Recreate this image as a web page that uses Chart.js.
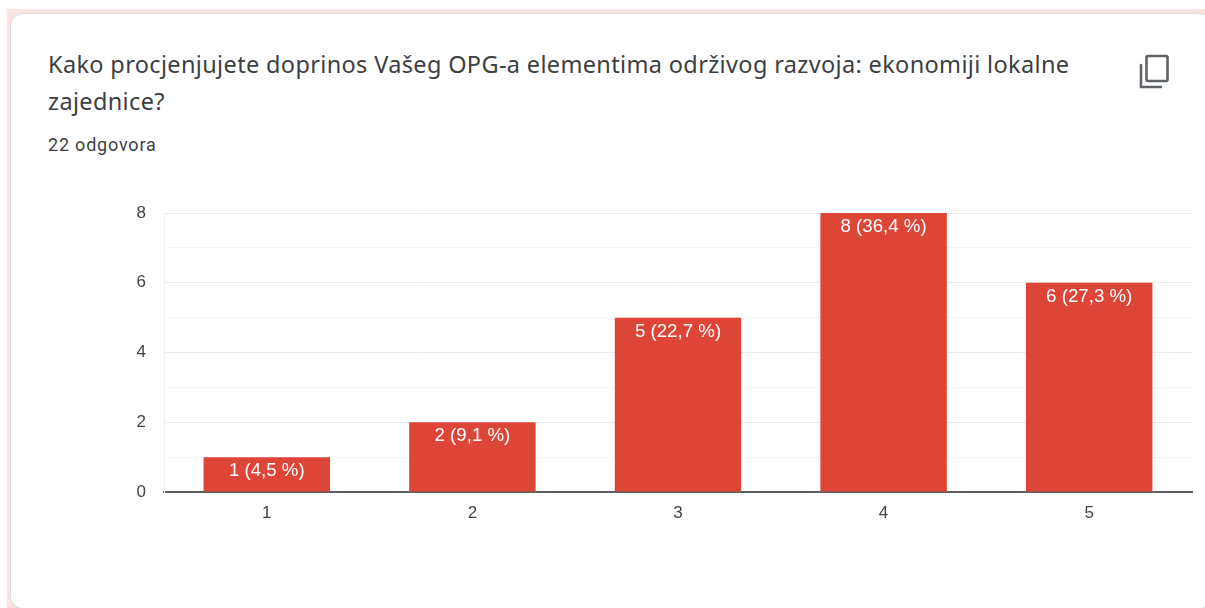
<!DOCTYPE html>
<html>
<head>
<meta charset="utf-8">
<style>
html, body { margin: 0; padding: 0; background: #fff; overflow: hidden; }
#page { position: relative; width: 1205px; height: 608px; overflow: hidden; background: #fff; }
#pink { position: absolute; left: 7px; top: 9px; width: 1198px; height: 599px; background: #fbe3e0; }
#card { position: absolute; left: 11px; top: 14px; width: 1200px; height: 594px; background: #fff; border-radius: 12px; box-shadow: 0 0 0 1px #dadce0; }
#title { position: absolute; left: 48px; top: 46px; white-space: nowrap; font: 23.5px/37px "Noto Sans", sans-serif; letter-spacing: 0.35px; color: #3c4043; }
#count { position: absolute; left: 48px; top: 135px; font: 18px/20px Roboto, sans-serif; color: #3c4043; letter-spacing: 0.8px; }
#copy { position: absolute; left: 1137px; top: 53px; }
canvas { position: absolute; left: 0; top: 0; }
</style>
</head>
<body>
<div id="page">
  <div id="pink"></div>
  <div id="card"></div>
  <div id="title">Kako procjenjujete doprinos Vašeg OPG-a elementima održivog razvoja: ekonomiji lokalne<br>zajednice?</div>
  <div id="count">22 odgovora</div>
  <svg id="copy" width="36" height="38" viewBox="0 0 36 38">
    <path d="M4 12 V34 H24" fill="none" stroke="#5f6368" stroke-width="2.6" stroke-linecap="round"/>
    <rect x="9.5" y="3" width="21" height="25" rx="1.5" fill="none" stroke="#5f6368" stroke-width="2.6"/>
  </svg>
  <div style="position:absolute;left:0;top:0;width:1205px;height:608px"><canvas id="BarChart"></canvas></div>
</div>
<script src="https://cdn.jsdelivr.net/npm/chart.js@4/dist/chart.umd.min.js"></script>
<script>
var categories = ['1', '2', '3', '4', '5'];
var answers = [1, 2, 5, 8, 6];
var barLabels = ['1 (4,5 %)', '2 (9,1 %)', '5 (22,7 %)', '8 (36,4 %)', '6 (27,3 %)'];

var barLabelPlugin = {
    id: 'barLabels',
    afterDatasetsDraw: function (chart) {
        var c = chart.ctx;
        c.save();
        c.font = '18.7px "Liberation Sans", Arial, sans-serif';
        c.fillStyle = '#ffffff';
        c.textAlign = 'center';
        c.textBaseline = 'middle';
        chart.getDatasetMeta(0).data.forEach(function (bar, i) {
            c.fillText(barLabels[i], bar.x, bar.y + 14);
        });
        c.restore();
    }
};

var ctx = document.getElementById('BarChart').getContext('2d');
var myChart = new Chart(ctx, {
    type: 'bar',
    data: {
        labels: categories,
        datasets: [{
            label: 'odgovora',
            data: answers,
            backgroundColor: '#dd4537',
            categoryPercentage: 0.615,
            barPercentage: 1
        }]
    },
    options: {
        responsive: true,
        maintainAspectRatio: false,
        animation: false,
        layout: { padding: { top: 213, right: 13, left: 0, bottom: 0 } },
        plugins: { legend: { display: false }, tooltip: { enabled: false } },
        scales: {
            x: {
                afterFit: function (s) { s.height = 116; },
                grid: { display: false },
                border: { color: '#5f5f5f', width: 2 },
                ticks: { color: '#444444', font: { family: '"Liberation Sans", Arial, sans-serif', size: 17 }, padding: 3, maxRotation: 0 }
            },
            y: {
                min: 0,
                max: 8,
                afterFit: function (s) { s.width = 164; },
                grid: {
                    drawTicks: false,
                    color: function (c) { return c.tick.value % 2 === 0 ? '#ececec' : '#f6f6f6'; }
                },
                border: { color: '#f0f0f0', width: 1 },
                ticks: {
                    stepSize: 1,
                    color: '#444444',
                    font: { family: '"Liberation Sans", Arial, sans-serif', size: 17 },
                    padding: 18,
                    callback: function (v) { return v % 2 === 0 ? v : ''; }
                }
            }
        }
    },
    plugins: [barLabelPlugin]
});
</script>
</body>
</html>
